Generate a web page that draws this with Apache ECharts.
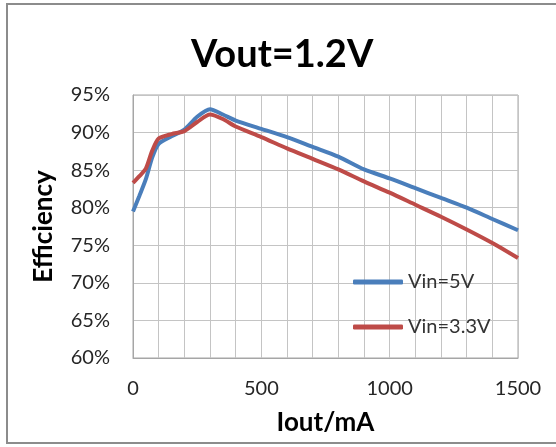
<!DOCTYPE html>
<html>
<head>
<meta charset="utf-8">
<script src="https://cdn.jsdelivr.net/npm/echarts@6/dist/echarts.min.js"></script>
<style>
html,body{margin:0;padding:0;background:#fff;}
#chart{width:556px;height:447px;}
</style>
</head>
<body>
<div id="chart"></div>
<script>
const titleText = 'Vout=1.2V';
const xName = 'Iout/mA';
const yName = 'Efficiency';
const seriesNames = ['Vin=5V', 'Vin=3.3V'];
const iout = [0, 25, 50, 75, 100, 150, 200, 250, 300, 350, 400, 500, 600, 700, 800, 900, 1000, 1100, 1200, 1300, 1400, 1500];
const eff5V = [79.5, 81.6, 83.8, 86.7, 88.5, 89.5, 90.4, 92.1, 93.1, 92.4, 91.6, 90.5, 89.4, 88.1, 86.8, 85.1, 83.9, 82.6, 81.3, 80.0, 78.5, 77.0];
const eff33V = [83.3, 84.2, 85.2, 87.6, 89.2, 89.8, 90.2, 91.4, 92.4, 91.8, 90.8, 89.4, 87.9, 86.5, 85.1, 83.5, 82.0, 80.4, 78.8, 77.1, 75.3, 73.3];
const xLabelValues = [0, 500, 1000, 1500];

const FONT = 'Lato, "Open Sans", sans-serif';
const chart = echarts.init(document.getElementById('chart'), null, {renderer: 'canvas'});

function pairs(xs, ys) { return xs.map((x, i) => [x, ys[i]]); }

chart.setOption({
  animation: false,
  backgroundColor: '#fff',
  title: {
    text: titleText,
    left: 186,
    top: 31,
    textStyle: {fontFamily: FONT, fontSize: 38, fontWeight: 'bold', color: '#000'}
  },
  graphic: [{
    type: 'rect',
    shape: {x: 7, y: 4, width: 570, height: 439},
    style: {fill: 'none', stroke: '#8c8c8c', lineWidth: 2},
    silent: true,
    z: -1
  }],
  legend: {
    orient: 'vertical',
    left: 353,
    top: 272,
    padding: 0,
    itemWidth: 50,
    itemHeight: 5,
    itemGap: 25,
    icon: 'roundRect',
    textStyle: {fontFamily: FONT, fontSize: 20, color: '#333', lineHeight: 20, padding: [0, 0, 0, 0]},
    data: seriesNames
  },
  grid: {left: 133, right: 38, top: 95, bottom: 89, show: true, borderColor: '#a6a6a6', borderWidth: 1},
  xAxis: {
    type: 'value',
    min: 0,
    max: 1500,
    interval: 100,
    name: xName,
    nameLocation: 'middle',
    nameGap: 52,
    nameTextStyle: {fontFamily: FONT, fontSize: 26, fontWeight: 'bold', color: '#000'},
    axisLine: {show: true, lineStyle: {color: '#a6a6a6'}},
    axisTick: {show: false},
    axisLabel: {
      margin: 21,
      fontFamily: FONT, fontSize: 20, color: '#262626',
      formatter: v => xLabelValues.includes(v) ? String(v) : ''
    },
    splitLine: {show: true, lineStyle: {color: '#c4c4c4', width: 1}}
  },
  yAxis: {
    type: 'value',
    min: 60,
    max: 95,
    interval: 5,
    name: yName,
    nameLocation: 'middle',
    nameGap: 76,
    nameTextStyle: {fontFamily: FONT, fontSize: 26, fontWeight: 'bold', color: '#000'},
    axisLine: {show: true, lineStyle: {color: '#a6a6a6'}},
    axisTick: {show: false},
    axisLabel: {margin: 23, fontFamily: FONT, fontSize: 20, color: '#262626', formatter: '{value}%'},
    splitLine: {show: true, lineStyle: {color: '#c4c4c4', width: 1}}
  },
  series: [
    {
      name: seriesNames[0],
      type: 'line',
      data: pairs(iout, eff5V),
      smooth: 0.25,
      showSymbol: false,
      lineStyle: {color: '#4a7ebb', width: 4},
      itemStyle: {color: '#4a7ebb'}
    },
    {
      name: seriesNames[1],
      type: 'line',
      data: pairs(iout, eff33V),
      smooth: 0.25,
      showSymbol: false,
      lineStyle: {color: '#be4b48', width: 4},
      itemStyle: {color: '#be4b48'}
    }
  ]
});
</script>
</body>
</html>
